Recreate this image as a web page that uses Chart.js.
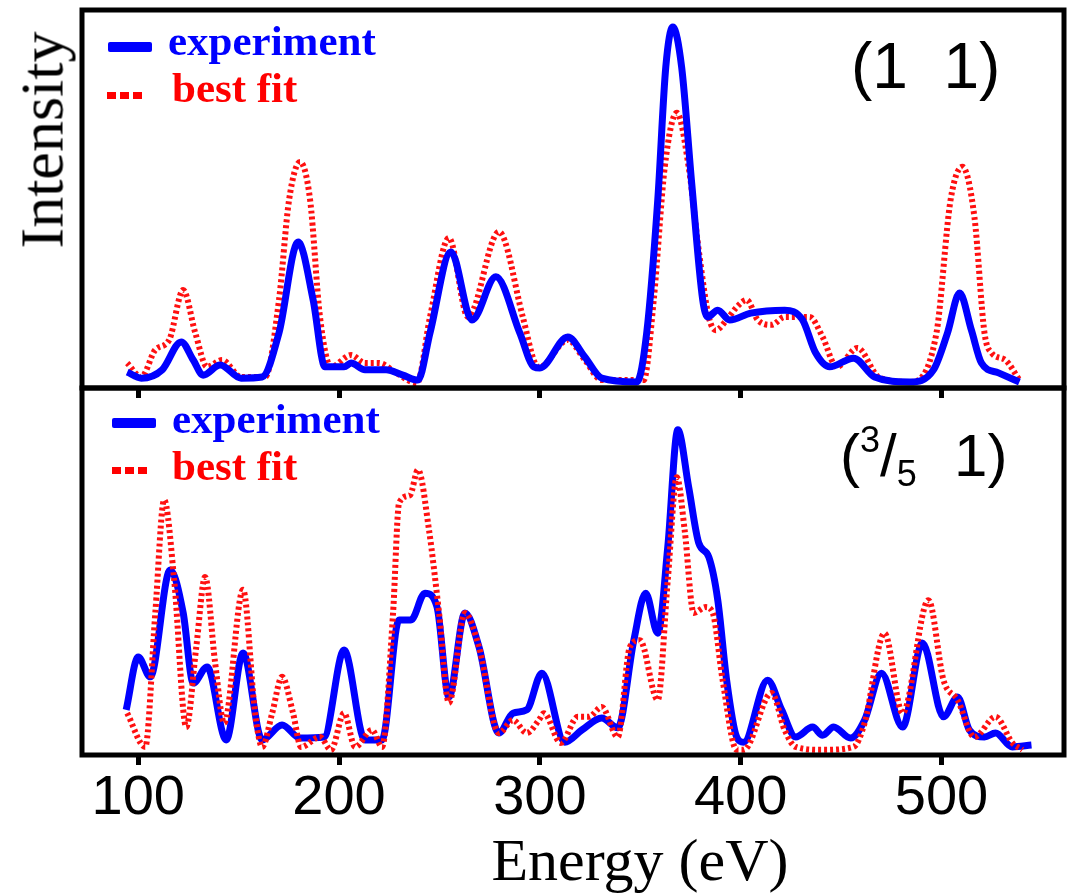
<!DOCTYPE html>
<html>
<head>
<meta charset="utf-8">
<script src="https://cdn.jsdelivr.net/npm/chart.js@4.4.1/dist/chart.umd.min.js"></script>
<style>
    body { margin: 0; background: #fff; }
    #page { position: relative; width: 1071px; height: 894px; overflow: hidden; background: #fff; }
    canvas { position: absolute; left: 0; }
    .txt { position: absolute; white-space: pre; line-height: 1; }
    .serif { font-family: "Liberation Serif", "Times New Roman", serif; }
    .sans { font-family: "Liberation Sans", Arial, sans-serif; }
    .legend { font-weight: bold; font-size: 43px; }
    .blueBar { position: absolute; width: 44px; height: 10px; background: #0000ff; border-radius: 2px; }
    .redDots { position: absolute; width: 36px; height: 7px;
        background: repeating-linear-gradient(90deg, #ff0000 0 9px, transparent 9px 13px); }
</style>
</head>
<body>
<div id="page">
    <canvas id="topChart" width="1071" height="400" style="top:0"></canvas>
    <canvas id="bottomChart" width="1071" height="514" style="top:380px"></canvas>

    <!-- y title -->
    <div class="txt serif" style="left:-67px; top:109px; width:217px; height:62px; font-size:62px; text-align:center; transform:rotate(-90deg);">Intensity</div>

    <!-- top legend -->
    <div class="blueBar" style="left:108px; top:42px;"></div>
    <div class="txt serif legend" style="left:168px; top:19px; color:#0000ff;">experiment</div>
    <div class="redDots" style="left:107px; top:92px;"></div>
    <div class="txt serif legend" style="left:172px; top:66px; color:#ff0000;">best fit</div>
    <div class="txt sans" style="left:851px; top:34px; font-size:64px; color:#000;">(1  1)</div>

    <!-- bottom legend -->
    <div class="blueBar" style="left:112px; top:418px;"></div>
    <div class="txt serif legend" style="left:172px; top:397px; color:#0000ff;">experiment</div>
    <div class="redDots" style="left:112px; top:467px;"></div>
    <div class="txt serif legend" style="left:172px; top:444px; color:#ff0000;">best fit</div>
    <div class="txt sans" style="left:840px; top:426px; font-size:60px; color:#000;">(<span style="font-size:36px; position:relative; top:-24px;">3</span>/<span style="font-size:36px; position:relative; top:10px;">5</span><span style="margin-left:4px;">  1)</span></div>

    <!-- x title -->
    <div class="txt serif" style="left:440px; top:830px; width:400px; text-align:center; font-size:60px; color:#000;">Energy (eV)</div>
</div>

<script>
// x range and ticks (eV)
const xMin = 72;
const xMax = 561;
const tickValues = [100, 200, 300, 400, 500];

// (1 1) panel: [energy, intensity]
const topExperiment = [
    [94.5, 4.2], [101.5, 2.6], [111.9, 4.8], [121.4, 12.2], [127.4, 7.4], [132.3, 3.4], [140.8, 6.1],
    [151.2, 2.6], [161.7, 2.9], [170.1, 14.6], [179.6, 38.6], [187.1, 23.3], [193.0, 5.6], [202.5, 5.6],
    [206.0, 6.6], [212.9, 4.8], [223.4, 4.8], [231.8, 3.4], [239.3, 2.1], [245.3, 14.6], [255.7, 36.0],
    [266.2, 18.0], [278.1, 29.4], [290.0, 14.6], [297.0, 5.6], [300.0, 5.3], [313.9, 13.5], [322.4, 8.2],
    [330.8, 2.6], [348.3, 1.6], [353.2, 14.6], [358.7, 49.7], [362.7, 84.9], [366.2, 95.5], [370.6, 84.9],
    [375.6, 54.2], [381.1, 23.3], [383.6, 18.8], [388.6, 20.6], [394.5, 18.0], [405.0, 19.8], [421.9, 20.6],
    [430.8, 18.0], [437.3, 9.3], [444.3, 5.6], [456.2, 7.9], [466.7, 2.9], [484.1, 1.6], [496.0, 4.8],
    [503.0, 14.6], [509.0, 25.1], [514.9, 15.3], [519.9, 6.6], [528.4, 4.0], [538.8, 1.6]
];
const topFit = [
    [94.5, 6.6], [101.5, 2.9], [108.5, 10.1], [115.4, 12.7], [122.4, 25.9], [128.4, 14.6], [134.3, 5.6],
    [141.8, 7.4], [151.2, 2.9], [163.2, 2.9], [170.1, 23.3], [175.1, 49.7], [180.6, 59.8], [185.6, 49.7],
    [190.5, 18.8], [196.0, 5.6], [206.0, 8.7], [212.9, 6.6], [219.9, 6.6], [228.4, 4.0], [238.8, 1.3],
    [245.3, 18.8], [254.7, 39.7], [264.2, 18.8], [279.6, 41.3], [291.5, 18.8], [297.5, 6.6], [300.0, 5.6],
    [313.9, 12.7], [322.4, 7.4], [330.8, 2.1], [351.7, 2.1], [356.7, 23.3], [362.2, 58.5], [368.2, 72.8],
    [374.1, 58.5], [379.1, 36.5], [384.1, 18.8], [387.6, 15.3], [393.0, 18.0], [398.0, 21.4], [403.0, 23.3],
    [408.5, 18.0], [415.4, 16.7], [421.9, 18.8], [434.3, 18.8], [440.8, 13.5], [447.8, 5.6], [458.2, 10.6],
    [468.7, 2.9], [484.1, 1.6], [497.5, 14.6], [504.5, 49.7], [510.4, 58.5], [516.4, 45.2], [521.4, 14.6],
    [524.9, 9.3], [531.8, 7.4], [538.8, 2.1]
];

// (3/5 1) panel
const bottomExperiment = [
    [94.0, 12.3], [100.0, 26.7], [106.0, 21.3], [115.9, 50.4], [122.4, 38.7], [127.4, 19.6], [134.3, 24.0],
    [143.8, 4.1], [152.2, 27.8], [161.7, 4.1], [171.6, 8.2], [180.6, 4.6], [192.5, 4.9], [202.5, 28.6],
    [212.9, 4.1], [221.4, 4.1], [229.9, 36.8], [235.8, 36.8], [242.8, 44.1], [248.8, 40.3], [254.7, 15.8],
    [262.7, 38.7], [269.7, 29.4], [279.6, 6.0], [286.6, 11.4], [293.5, 12.3], [301.0, 22.3], [312.4, 3.5],
    [320.9, 6.8], [330.8, 10.1], [338.8, 7.4], [346.8, 31.3], [352.7, 44.1], [358.7, 33.2], [363.7, 56.7],
    [368.7, 88.6], [374.1, 73.0], [379.1, 57.8], [384.1, 54.0], [388.6, 42.2], [393.0, 20.4], [398.0, 4.9],
    [401.5, 3.5], [413.4, 20.4], [420.4, 12.3], [427.4, 4.9], [435.8, 7.6], [440.8, 5.4], [446.3, 7.6],
    [454.7, 4.6], [461.7, 9.5], [470.1, 22.3], [480.6, 7.6], [490.5, 30.5], [501.0, 10.4], [508.0, 15.8],
    [513.9, 6.8], [521.4, 4.9], [526.9, 6.0], [535.3, 2.2], [544.8, 2.7]
];
const bottomFit = [
    [94.5, 11.4], [103.5, 2.2], [108.5, 38.7], [112.9, 69.5], [117.9, 47.7], [123.9, 7.6], [128.9, 29.4],
    [133.3, 48.5], [138.3, 25.1], [142.8, 8.7], [152.2, 45.0], [158.2, 11.4], [161.7, 2.2], [166.7, 11.4],
    [171.6, 21.3], [177.1, 11.4], [181.1, 2.2], [190.5, 4.9], [196.0, 1.4], [202.5, 11.4], [208.0, 2.2],
    [216.4, 6.8], [221.4, 2.2], [226.9, 38.7], [229.9, 68.7], [235.3, 70.8], [239.3, 77.7], [244.8, 61.3],
    [249.8, 38.7], [254.7, 14.2], [262.7, 38.7], [269.7, 29.4], [279.6, 6.0], [286.6, 9.5], [293.5, 6.0],
    [299.5, 9.5], [302.0, 11.4], [310.4, 3.3], [318.9, 10.4], [324.4, 10.4], [330.8, 13.1], [338.8, 4.9],
    [344.8, 29.4], [349.8, 31.3], [358.7, 15.0], [363.7, 47.7], [368.2, 75.7], [372.1, 61.3], [376.6, 38.7],
    [382.6, 40.3], [386.1, 38.7], [391.0, 20.4], [398.0, 1.4], [401.5, 1.4], [415.4, 16.9], [421.9, 6.8],
    [427.4, 2.2], [440.8, 1.4], [456.2, 2.2], [461.7, 8.7], [471.6, 33.2], [480.6, 11.4], [493.5, 42.2],
    [501.0, 20.4], [508.0, 15.0], [516.4, 4.9], [526.9, 10.4], [535.3, 3.3], [540.3, 1.4]
];

const BLUE = "#0000ff";
const RED = "#ff1010";

function toPoints(arr) {
    return arr.map(p => ({ x: p[0], y: p[1] }));
}

// box around the plot area
const framePlugin = {
    id: "frame",
    afterDatasetsDraw(chart) {
        const { ctx, chartArea: a } = chart;
        ctx.save();
        ctx.strokeStyle = "#000";
        ctx.lineWidth = 5;
        ctx.strokeRect(a.left, a.top, a.right - a.left, a.bottom - a.top);
        ctx.restore();
    }
};

function lineSet(data, color, dashed, order) {
    return {
        data: toPoints(data),
        borderColor: color,
        borderWidth: dashed ? 6 : 7,
        borderDash: dashed ? [3, 3] : [],
        pointRadius: 0,
        fill: false,
        cubicInterpolationMode: "monotone",
        order: order,
    };
}

function xScale(showLabels, axisHeight) {
    return {
        type: "linear",
        min: xMin,
        max: xMax,
        afterBuildTicks: (scale) => {
            scale.ticks = tickValues.map(v => ({ value: v }));
        },
        afterFit: (scale) => {
            scale.height = axisHeight;
        },
        border: { display: false },
        grid: {
            drawOnChartArea: false,
            drawTicks: true,
            tickLength: 10,
            tickWidth: 5,
            tickColor: "#000",
        },
        ticks: {
            display: showLabels,
            color: "#000",
            padding: 0,
            maxRotation: 0,
            autoSkip: false,
            font: { family: "'Liberation Sans', Arial, sans-serif", size: 56 },
        },
    };
}

Chart.defaults.font.family = "'Liberation Sans', Arial, sans-serif";

// top panel (1 1)
new Chart(document.getElementById("topChart").getContext("2d"), {
    type: "line",
    data: {
        datasets: [
            lineSet(topExperiment, BLUE, false, 0),
            lineSet(topFit, RED, true, 1),
        ],
    },
    options: {
        responsive: false,
        animation: false,
        layout: { padding: { left: 82, right: 7, top: 10, bottom: 0 } },
        plugins: { legend: { display: false }, tooltip: { enabled: false } },
        scales: {
            x: xScale(false, 12),
            y: { display: false, min: 0, max: 100 },
        },
    },
    plugins: [framePlugin],
});

// bottom panel (3/5 1)
new Chart(document.getElementById("bottomChart").getContext("2d"), {
    type: "line",
    data: {
        datasets: [
            lineSet(bottomExperiment, BLUE, false, 1),
            lineSet(bottomFit, RED, true, 0),
        ],
    },
    options: {
        responsive: false,
        animation: false,
        layout: { padding: { left: 82, right: 7, top: 8, bottom: 0 } },
        plugins: { legend: { display: false }, tooltip: { enabled: false } },
        scales: {
            x: xScale(true, 139),
            y: { display: false, min: 0, max: 100 },
        },
    },
    plugins: [framePlugin],
});
</script>
</body>
</html>
